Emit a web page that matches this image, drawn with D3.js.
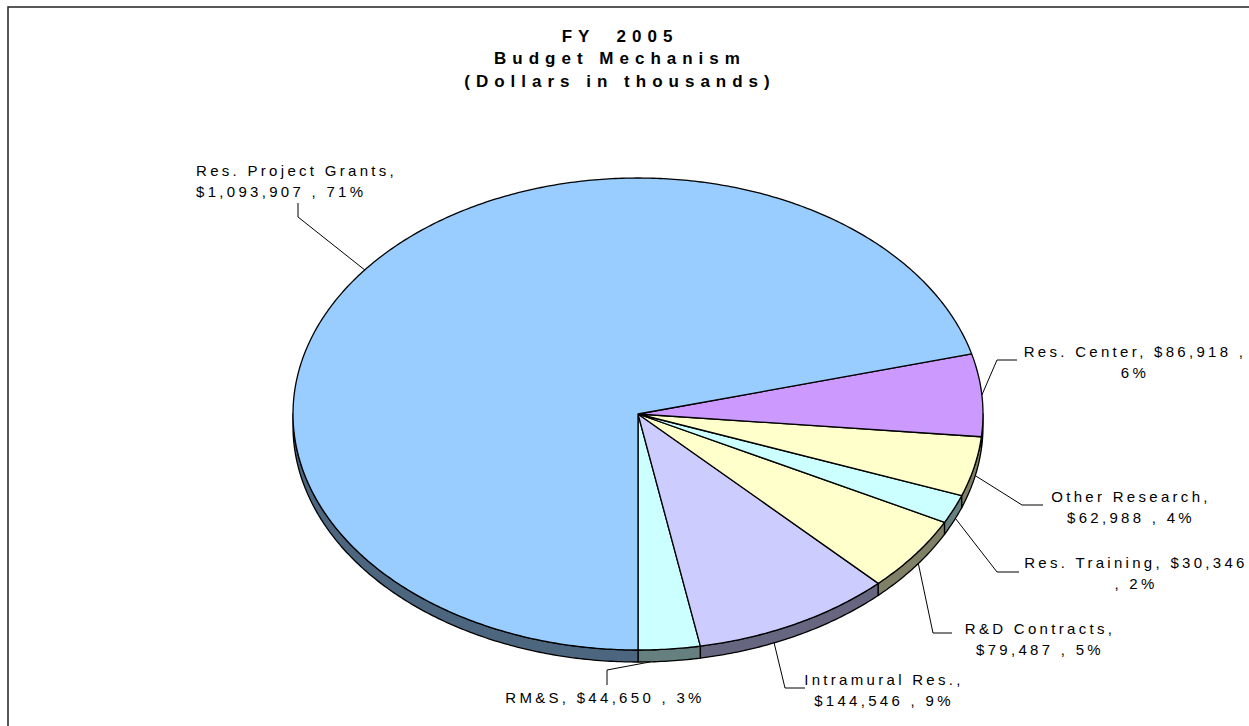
<!DOCTYPE html>
<meta charset="utf-8">
<body style="margin:0; background:#fff;">
<script src="https://d3js.org/d3.v7.min.js"></script>
<svg id="chart" width="1249" height="726"></svg>
<script>
// data, in pie order (starting at 6 o'clock, going round to the right)
var categories = ["RM&S", "Intramural Res.", "R&D Contracts", "Res. Training", "Other Research", "Res. Center", "Res. Project Grants"];
var values = [44650, 144546, 79487, 30346, 62988, 86918, 1093907];
var valueLabels = ["$44,650", "$144,546", "$79,487", "$30,346", "$62,988", "$86,918", "$1,093,907"];
var percentLabels = ["3%", "9%", "5%", "2%", "4%", "6%", "71%"];
var titleLines = ["FY  2005", "Budget Mechanism", "(Dollars in thousands)"];

var colors = ["#CCFFFF", "#CCCCFF", "#FFFFCC", "#CCFFFF", "#FFFFCC", "#CC99FF", "#99CCFF"];

// label layout (text lines, position, leader elbow, where the leader meets the slice)
var labelLayout = [
  {lines: ["RM&S, $44,650 , 3%"], x: 605, y: 703, anchor: "middle", leader: [[607, 685], [607, 670]], attach: 0.2},
  {lines: ["Intramural Res.,", "$144,546 , 9%"], x: 884, y: 685, anchor: "middle", leader: [[805, 688], [785, 688]], attach: 0.38},
  {lines: ["R&D Contracts,", "$79,487 , 5%"], x: 1040, y: 634, anchor: "middle", leader: [[952, 633], [933, 633]], attach: 0.55},
  {lines: ["Res. Training, $30,346", ", 2%"], x: 1136, y: 568, anchor: "middle", leader: [[1019, 572], [997, 572]], attach: 0.6},
  {lines: ["Other Research,", "$62,988 , 4%"], x: 1131, y: 502, anchor: "middle", leader: [[1043, 505], [1022, 505]], attach: 0.55},
  {lines: ["Res. Center, $86,918 ,", "6%"], x: 1135, y: 357, anchor: "middle", leader: [[1017, 360], [997, 360]], attach: 0.5},
  {lines: ["Res. Project Grants,", "$1,093,907 , 71%"], x: 196, y: 176, anchor: "start", leader: [[298, 203], [298, 217]], attach: 0.5}
];

var svg = d3.select("#chart");
var cx = 638, cy = 414, rx = 345, ry = 236, depth = 12;

// border
svg.append("rect").attr("x", 8).attr("y", 7).attr("width", 1300).attr("height", 800)
  .attr("fill", "none").attr("stroke", "#222").attr("stroke-width", 1.5);

// title
var title = svg.append("text").attr("text-anchor", "middle")
  .style("font-family", "'Liberation Sans', Arial, sans-serif")
  .style("font-weight", "bold").style("font-size", "17px")
  .style("letter-spacing", "6px").style("white-space", "pre");
titleLines.forEach(function(t, i) {
  title.append("tspan").attr("x", 620).attr("y", 41.5 + i * 22.5).text(t);
});

var pie = d3.pie().sort(null).value(function(d) { return d; });
var arcs = pie(values);

function pt(a, dy) {
  return [cx + rx * Math.sin(a), cy + ry * Math.cos(a) + (dy || 0)];
}
function arcPoints(a0, a1, dy) {
  var n = Math.max(2, Math.ceil(Math.abs(a1 - a0) / 0.01));
  var pts = [];
  for (var i = 0; i <= n; i++) pts.push(pt(a0 + (a1 - a0) * i / n, dy));
  return pts;
}
var line = d3.line();

// side walls (front half of ellipse only: a in [-PI/2, PI/2])
var sides = svg.append("g");
arcs.forEach(function(d, i) {
  var ranges = [[d.startAngle, d.endAngle], [d.startAngle - 2 * Math.PI, d.endAngle - 2 * Math.PI]];
  ranges.forEach(function(r) {
    var a0 = Math.max(r[0], -Math.PI / 2), a1 = Math.min(r[1], Math.PI / 2);
    if (a1 <= a0) return;
    var top = arcPoints(a0, a1, 0);
    var bot = arcPoints(a1, a0, depth);
    var c = d3.rgb(colors[i]);
    sides.append("path")
      .attr("d", line(top.concat(bot)) + "Z")
      .attr("fill", d3.rgb(c.r * 0.5, c.g * 0.5, c.b * 0.5))
      .attr("stroke", "#000").attr("stroke-width", 1.3).attr("stroke-linejoin", "round");
  });
});

// top faces
svg.append("g").selectAll("path").data(arcs).join("path")
  .attr("d", function(d) {
    return line([[cx, cy]].concat(arcPoints(d.startAngle, d.endAngle, 0))) + "Z";
  })
  .attr("fill", function(d, i) { return colors[i]; })
  .attr("stroke", "#000").attr("stroke-width", 1.3).attr("stroke-linejoin", "round");

// labels and leaders
var lab = svg.append("g")
  .style("font-family", "'Liberation Sans', Arial, sans-serif")
  .style("font-size", "15px").style("letter-spacing", "3.3px")
  .attr("fill", "#000");
arcs.forEach(function(d, i) {
  var L = labelLayout[i];
  var a = d.startAngle + (d.endAngle - d.startAngle) * L.attach;
  var front = Math.cos(a) > 0;
  var p = pt(a, front ? depth : 0);
  lab.append("path")
    .attr("d", line([L.leader[0], L.leader[1], p]))
    .attr("fill", "none").attr("stroke", "#000").attr("stroke-width", 1);
  var t = lab.append("text").attr("text-anchor", L.anchor).style("white-space", "pre");
  L.lines.forEach(function(s, j) {
    t.append("tspan").attr("x", L.x).attr("y", L.y + j * 21).text(s);
  });
});
</script>
</body>
